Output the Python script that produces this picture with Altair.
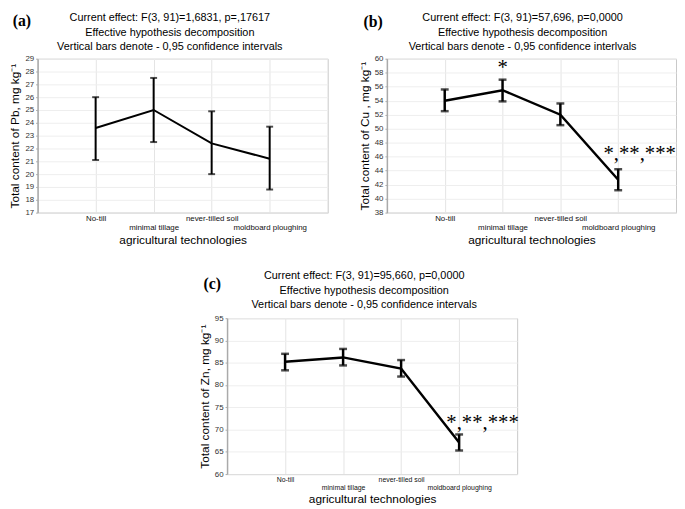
import altair as alt
import pandas as pd

categories = ["No-till", "minimal tillage", "never-tilled soil", "moldboard ploughing"]

pb_mean = [23.6, 25.0, 22.4, 21.2]
pb_low = [21.1, 22.5, 20.0, 18.8]
pb_high = [26.0, 27.5, 24.9, 23.7]

cu_mean = [54.0, 55.5, 52.0, 42.7]
cu_low = [52.5, 53.9, 50.5, 41.2]
cu_high = [55.6, 57.0, 53.6, 44.2]

zn_mean = [85.2, 86.2, 83.7, 67.1]
zn_low = [83.3, 84.4, 81.9, 65.3]
zn_high = [87.0, 88.1, 85.6, 68.9]

titles_a = ["Current effect: F(3, 91)=1,6831, p=,17617",
            "Effective hypothesis decomposition",
            "Vertical bars denote - 0,95 confidence intervals"]
titles_b = ["Current effect: F(3, 91)=57,696, p=0,0000",
            "Effective hypothesis decomposition",
            "Vertical bars denote - 0,95 confidence interlvals"]
titles_c = ["Current effect: F(3, 91)=95,660, p=0,0000",
            "Effective hypothesis decomposition",
            "Vertical bars denote - 0,95 confidence intervals"]

cu_star_cat = ["minimal tillage"]
cu_star_text = ["*"]
cu_star_y = [57.8]
cu_multi_cat = ["moldboard ploughing"]
cu_multi_text = ["*,**,***"]
cu_multi_y = [45.5]
zn_multi_cat = ["moldboard ploughing"]
zn_multi_text = ["*,**,***"]
zn_multi_y = [70.1]

FONT = "Liberation Sans"
SERIF = "Liberation Serif"


def panel(mean, low, high, ydom, ystep, ytitle, titles, title_ys, letter, letter_xy,
          w, h, label_size, stroke, cap, tdx, annotations):
    df = pd.DataFrame({"cat": categories, "mean": mean, "low": low, "high": high})
    xenc = alt.X(
        "cat:N", sort=categories,
        scale=alt.Scale(type="point", padding=1),
        axis=alt.Axis(
            title="agricultural technologies", titleFont=FONT, titleFontSize=12,
            titleFontWeight="normal", titleColor="black", titlePadding=3,
            labelFont=FONT, labelFontSize=label_size, labelColor="#111",
            labelAngle=0, labelOverlap=False, labelLineHeight=label_size + 1,
            labelExpr="indexof(['minimal tillage','moldboard ploughing'], datum.value) >= 0 ? ['', datum.label] : datum.label",
            grid=True, gridColor="#e4e4e4", domainColor="#dddddd", ticks=False,
            labelPadding=2,
        ),
    )
    yvals = list(range(ydom[0], ydom[1] + 1, ystep))
    yscale = alt.Scale(domain=ydom, nice=False, zero=False)
    yaxis = alt.Axis(
        title=ytitle, titleFont=FONT, titleFontSize=12, titleFontWeight="normal",
        titleColor="black", titlePadding=3, values=yvals, labelOverlap=False,
        labelFont=FONT, labelFontSize=8, labelColor="#333", labelPadding=2,
        grid=True, gridColor="#eeeeee", domainColor="#aaaaaa", domainWidth=1.5,
        tickSize=2, tickColor="#aaaaaa",
    )
    base = alt.Chart(df)
    rules = base.mark_rule(color="black", strokeWidth=stroke).encode(
        x=xenc, y=alt.Y("low:Q", scale=yscale, axis=yaxis), y2="high:Q")
    caps_lo = base.mark_tick(color="black", thickness=stroke, size=cap).encode(
        x=xenc, y=alt.Y("low:Q", scale=yscale, axis=yaxis))
    caps_hi = base.mark_tick(color="black", thickness=stroke, size=cap).encode(
        x=xenc, y=alt.Y("high:Q", scale=yscale, axis=yaxis))
    line = base.mark_line(color="black", strokeWidth=stroke).encode(
        x=xenc, y=alt.Y("mean:Q", scale=yscale, axis=yaxis))
    ldf = pd.DataFrame({"t": [letter]})
    let = alt.Chart(ldf).mark_text(font=SERIF, fontSize=16, fontWeight="bold",
                                    color="black", align="center", baseline="middle").encode(
        x=alt.value(letter_xy[0]), y=alt.value(letter_xy[1]), text="t:N")
    layers = [rules, caps_lo, caps_hi, line, let]
    for txt, ty in zip(titles, title_ys):
        tdf = pd.DataFrame({"t": [txt]})
        layers.append(alt.Chart(tdf).mark_text(
            font=FONT, fontSize=11, color="black", align="center", baseline="middle").encode(
            x=alt.value(w / 2 + tdx), y=alt.value(ty), text="t:N"))
    for cats, texts, ys, align, dx in annotations:
        adf = pd.DataFrame({"cat": cats, "t": texts, "y": ys})
        layers.append(alt.Chart(adf).mark_text(
            font=SERIF, fontSize=21, color="black", align=align,
            baseline="alphabetic", dx=dx).encode(
            x=xenc, y=alt.Y("y:Q", scale=yscale, axis=yaxis), text="t:N"))
    return alt.layer(*layers).properties(
        width=w, height=h,
        view=alt.ViewBackground(stroke="#c8c8c8"),
    )


pa = panel(pb_mean, pb_low, pb_high, [17, 29], 1, "Total content of Pb, mg kg⁻¹",
           titles_a, [-41, -26.5, -12], "(a)", (-16, -38), 294, 156, 8, 2, 7, -13, [])
pb = panel(cu_mean, cu_low, cu_high, [38, 60], 2, "Total content of Cu , mg kg⁻¹",
           titles_b, [-41, -26.5, -12], "(b)", (-14, -37), 293, 156, 8, 2.5, 8, -9,
           [(cu_star_cat, cu_star_text, cu_star_y, "center", 0),
            (cu_multi_cat, cu_multi_text, cu_multi_y, "left", -15)])
pc = panel(zn_mean, zn_low, zn_high, [60, 95], 5, "Total content of Zn, mg kg⁻¹",
           titles_c, [-43, -28, -13], "(c)", (-15, -35), 294, 158, 7, 2.5, 8, -8,
           [(zn_multi_cat, zn_multi_text, zn_multi_y, "left", -13)])

spacer = alt.Chart(pd.DataFrame({"v": [0]})).mark_point(opacity=0).encode(
    x=alt.X("v:Q", axis=None), y=alt.Y("v:Q", axis=None)
).properties(width=158, height=10, view=alt.ViewBackground(strokeOpacity=0))

top = alt.hconcat(pa, pb, spacing=29)
bottom = alt.hconcat(spacer, pc, spacing=4)
chart = alt.vconcat(top, bottom, spacing=23).properties(
    padding={"left": 0, "top": 0, "right": 0, "bottom": 0}
).configure(background="white")

chart.save("out.html", embed_options={"renderer": "svg", "actions": False})
